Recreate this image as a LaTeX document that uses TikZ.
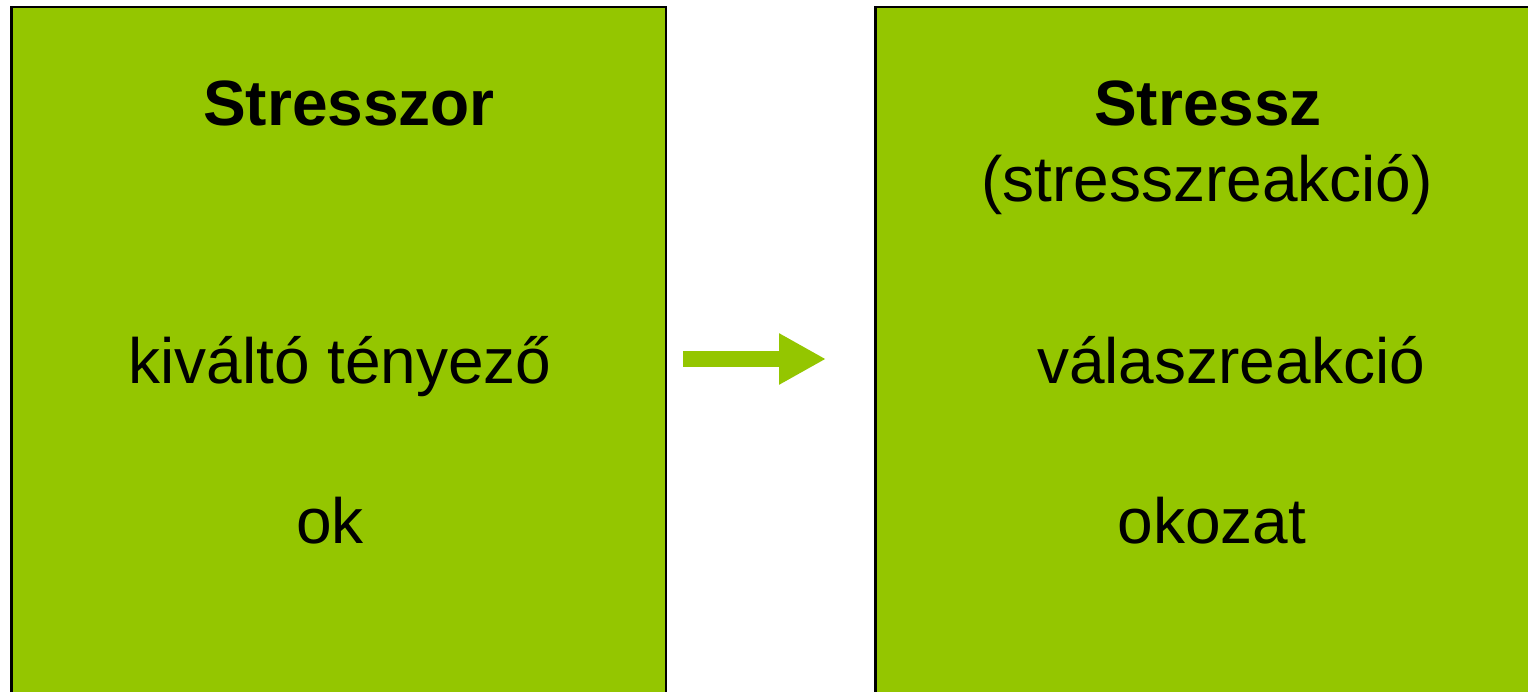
\documentclass[tikz,border=0pt]{standalone}
\usepackage{fontspec}
\setmainfont{Liberation Sans}
\usetikzlibrary{arrows.meta}
\definecolor{leaf}{HTML}{94C600}
\tikzset{
  greenbox/.style={draw=black, line width=2.5pt, fill=leaf, inner sep=0pt, rectangle},
  bigtext/.style={anchor=base, inner sep=0pt, font=\fontsize{64}{70}\selectfont},
  bigbold/.style={bigtext, font=\fontsize{64}{70}\selectfont\bfseries},
  fatarrow/.style={draw=leaf, line width=16pt, line cap=butt, -{Triangle[length=47pt, width=48pt]}}
}
\begin{document}
\begin{tikzpicture}[x=1pt, y=-1pt]
\useasboundingbox (0,0) rectangle (1528,692);
\clip (0,0) rectangle (1528,692);
\fill[white] (0,0) rectangle (1528,692);
\node[greenbox, minimum width=654.5pt, minimum height=720pt] (left) at (338.5,367.25) {};
\node[greenbox, minimum width=680pt, minimum height=720pt] (right) at (1215.25,367.25) {};
\node[bigbold] (t1) at (349,126) {Stresszor};
\node[bigtext] (t2) at (340,383) {kiváltó tényező};
\node[bigtext] (t3) at (330,543) {ok};
\node[bigbold] (t4) at (1208,126) {Stressz};
\node[bigtext] (t5) at (1207,202) {(stresszreakció)};
\node[bigtext] (t6) at (1231,383) {válaszreakció};
\node[bigtext] (t7) at (1212,543) {okozat};
\coordinate (as) at (683,359);
\coordinate (ae) at (826,359);
\draw[fatarrow] (as) -- (ae);
\end{tikzpicture}
\end{document}
